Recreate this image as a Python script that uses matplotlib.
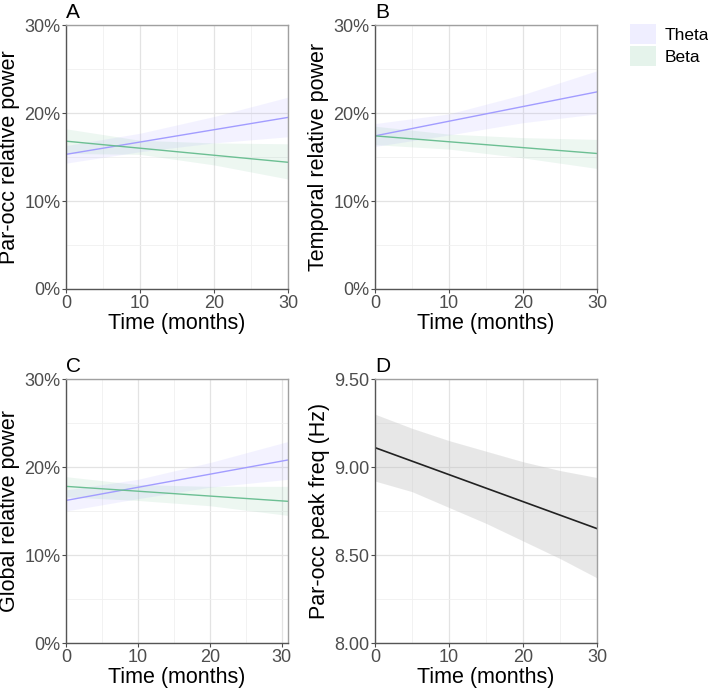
import matplotlib.pyplot as plt
from matplotlib.patches import Patch
from matplotlib.ticker import FuncFormatter, MultipleLocator

plt.rcParams['font.family'] = ['Liberation Sans', 'DejaVu Sans']

# time points where band edges were read
t_band = [0, 10, 20, 30]

# Panel A: par-occ relative power (%)
a_theta_line = [15.3, 19.5]
a_theta_hi = [16.3, 17.7, 19.6, 21.8]
a_theta_lo = [14.3, 15.6, 16.6, 17.3]
a_beta_line = [16.8, 14.4]
a_beta_hi = [18.2, 16.9, 16.6, 16.5]
a_beta_lo = [15.4, 15.3, 14.1, 12.5]

# Panel B: temporal relative power (%)
b_theta_line = [17.4, 22.4]
b_theta_hi = [18.8, 19.9, 22.1, 24.8]
b_theta_lo = [16.2, 17.5, 18.9, 19.9]
b_beta_line = [17.4, 15.4]
b_beta_hi = [18.5, 17.6, 17.2, 17.0]
b_beta_lo = [16.4, 15.9, 14.9, 13.7]

# Panel C: global relative power (%), x range ends at ~30.9
t_band_c = [0, 10, 20, 30.9]
c_theta_line = [16.2, 20.8]
c_theta_hi = [17.4, 18.6, 20.5, 22.9]
c_theta_lo = [15.0, 16.4, 17.7, 18.6]
c_beta_line = [17.8, 16.1]
c_beta_hi = [18.9, 18.0, 17.8, 17.8]
c_beta_lo = [16.6, 16.2, 15.6, 14.5]

# Panel D: par-occ peak frequency (Hz)
t_band_d = [0, 5, 10, 15, 20, 25, 30]
d_line = [9.11, 8.65]
d_hi = [9.30, 9.22, 9.15, 9.09, 9.03, 8.98, 8.94]
d_lo = [8.92, 8.86, 8.77, 8.68, 8.58, 8.48, 8.37]

theta_col = '#a29cff'
beta_col = '#6cbf93'

fig = plt.figure(figsize=(7.08, 6.91), dpi=100)
W, H = 708, 691


def make_ax(x0, y0, x1, y1):
    return fig.add_axes([x0 / W, 1 - y1 / H, (x1 - x0) / W, (y1 - y0) / H])


def style(ax, ylabel, letter):
    ax.set_xlabel('Time (months)', fontsize=15.5, labelpad=1)
    ax.set_ylabel(ylabel, fontsize=15.5, labelpad=3)
    ax.xaxis.set_major_locator(MultipleLocator(10))
    ax.xaxis.set_minor_locator(MultipleLocator(5))
    ax.grid(which='major', color='#e3e3e3', lw=0.9)
    ax.grid(which='minor', color='#f0f0f0', lw=0.6)
    ax.set_axisbelow(True)
    ax.tick_params(which='major', labelsize=13, colors='#4d4d4d', length=3, pad=1)
    ax.tick_params(which='minor', length=0)
    for s in ['left', 'bottom']:
        ax.spines[s].set_color('#555555')
        ax.spines[s].set_linewidth(1.0)
    for s in ['top', 'right']:
        ax.spines[s].set_color('#a0a0a0')
        ax.spines[s].set_linewidth(1.0)
    ax.text(0.0, 1.012, letter, transform=ax.transAxes, fontsize=15,
            ha='left', va='bottom')


def pct_axis(ax):
    ax.set_ylim(0, 30)
    ax.yaxis.set_major_locator(MultipleLocator(10))
    ax.yaxis.set_minor_locator(MultipleLocator(5))
    ax.yaxis.set_major_formatter(FuncFormatter(lambda v, p: f'{v:.0f}%'))


def draw_bands(ax, tb, tl, th_line, th_hi, th_lo, be_line, be_hi, be_lo):
    ax.fill_between(tb, th_lo, th_hi, color=theta_col, alpha=0.12, lw=0)
    ax.fill_between(tb, be_lo, be_hi, color=beta_col, alpha=0.12, lw=0)
    ax.plot(tl, th_line, color=theta_col, lw=1.0)
    ax.plot(tl, be_line, color=beta_col, lw=1.0)


# A
axA = make_ax(66, 25, 288, 289)
draw_bands(axA, t_band, [0, 30], a_theta_line, a_theta_hi, a_theta_lo,
           a_beta_line, a_beta_hi, a_beta_lo)
axA.set_xlim(0, 30)
pct_axis(axA)
style(axA, 'Par-occ relative power', 'A')

# B
axB = make_ax(375, 25, 597, 289)
draw_bands(axB, t_band, [0, 30], b_theta_line, b_theta_hi, b_theta_lo,
           b_beta_line, b_beta_hi, b_beta_lo)
axB.set_xlim(0, 30)
pct_axis(axB)
style(axB, 'Temporal relative power', 'B')

# C
axC = make_ax(66, 379, 288, 643)
draw_bands(axC, t_band_c, [0, 30.9], c_theta_line, c_theta_hi, c_theta_lo,
           c_beta_line, c_beta_hi, c_beta_lo)
axC.set_xlim(0, 30.9)
pct_axis(axC)
style(axC, 'Global relative power', 'C')

# D
axD = make_ax(375, 379, 597, 643)
axD.fill_between(t_band_d, d_lo, d_hi, color='#bdbdbd', alpha=0.35, lw=0)
axD.plot([0, 30], d_line, color='#222222', lw=1.2)
axD.set_xlim(0, 30)
axD.set_ylim(8.0, 9.5)
axD.yaxis.set_major_locator(MultipleLocator(0.5))
axD.yaxis.set_minor_locator(MultipleLocator(0.25))
axD.yaxis.set_major_formatter(FuncFormatter(lambda v, p: f'{v:.2f}'))
style(axD, 'Par-occ peak freq (Hz)', 'D')

# legend
handles = [Patch(facecolor='#efeeff', edgecolor='none', label='Theta'),
           Patch(facecolor='#e5f3eb', edgecolor='none', label='Beta')]
fig.legend(handles=handles, loc='upper left', bbox_to_anchor=(630 / W, 1 - 24 / H),
           frameon=False, fontsize=12.5, handlelength=1.5, handleheight=1.4,
           handletextpad=0.5, labelspacing=0.1, borderaxespad=0, borderpad=0)

fig.savefig('out.png', dpi=100)
